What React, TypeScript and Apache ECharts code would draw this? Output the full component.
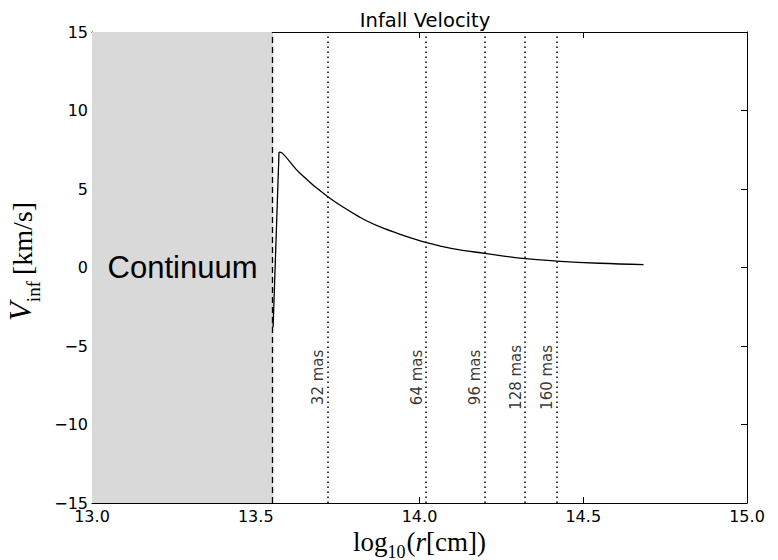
import React, { useEffect, useRef } from "react";
import * as echarts from "echarts";

// Infall velocity profile (log10 r [cm] -> V_inf [km/s])
const riseX = [13.553, 13.571];
const riseY = [-3.8, 7.35];
const decayX = [13.571, 13.58, 13.635, 13.72, 13.818, 13.878, 13.95, 14.022, 14.1, 14.2, 14.324, 14.419, 14.55, 14.684];
const decayY = [7.35, 7.3, 6.0, 4.5, 3.2, 2.6, 2.05, 1.58, 1.2, 0.9, 0.56, 0.41, 0.27, 0.18];

const continuumEdge = 13.553;
const continuumLabel = "Continuum";

const angularMarks = [13.721, 14.022, 14.2, 14.324, 14.42];
const angularLabels = ["32 mas", "64 mas", "96 mas", "128 mas", "160 mas"];
const angularLabelY = -7.0;

const xMin = 13.0, xMax = 15.0, xStep = 0.5;
const yMin = -15, yMax = 15, yStep = 5;

const titleText = "Infall Velocity";

export default function App() {
  const ref = useRef<HTMLDivElement>(null);
  useEffect(() => {
    const chart = echarts.init(ref.current!, null, { renderer: "svg" });
    const tickFont = { fontFamily: "DejaVu Sans", fontSize: 16, color: "#000" };
    const axisLine = { show: true, onZero: false, lineStyle: { color: "#000", width: 1 } };
    const axisTick = { show: true, inside: true, length: 6, lineStyle: { color: "#000", width: 1 } };
    const curveStyle = { color: "#000", width: 1.3 };
    chart.setOption({
      animation: false,
      backgroundColor: "#fff",
      title: {
        text: titleText,
        left: 420,
        top: 5,
        textAlign: "center",
        textStyle: { fontFamily: "DejaVu Sans", fontSize: 19.5, fontWeight: "normal", color: "#000" },
      },
      grid: { left: 92, right: 31, top: 32, bottom: 57, containLabel: false, outerBoundsMode: "none" },
      xAxis: [
        {
          type: "value", min: xMin, max: xMax, interval: xStep, position: "bottom",
          axisLine, axisTick, splitLine: { show: false },
          axisLabel: { ...tickFont, margin: 5, showMinLabel: true, showMaxLabel: true, formatter: (v: number) => v.toFixed(1) },
          name: "{t|log}{s|10}{t|(}{i|r}{t|[cm])}",
          nameLocation: "middle",
          nameGap: 19,
          nameTextStyle: {
            rich: {
              t: { fontFamily: "Liberation Serif", fontSize: 27, color: "#000", verticalAlign: "bottom", lineHeight: 30 },
              i: { fontFamily: "Liberation Serif", fontStyle: "italic", fontSize: 27, color: "#000", verticalAlign: "bottom", lineHeight: 30 },
              s: { fontFamily: "Liberation Serif", fontSize: 18, color: "#000", verticalAlign: "bottom", lineHeight: 30, padding: [0, 1, -5, 0] },
            },
          },
        },
        {
          type: "value", min: xMin, max: xMax, interval: xStep, position: "top",
          axisLine, axisTick, axisLabel: { show: false }, splitLine: { show: false },
        },
      ],
      yAxis: [
        {
          type: "value", min: yMin, max: yMax, interval: yStep, position: "left",
          axisLine, axisTick, splitLine: { show: false },
          axisLabel: { ...tickFont, margin: 4, showMinLabel: true, showMaxLabel: true, formatter: (v: number) => String(v).replace("-", "\u2212") },
          name: "{v|V}{s|inf}{t|[km/s]}",
          nameLocation: "middle",
          nameGap: 41,
          nameTextStyle: {
            padding: [0, 0, 0, 12],
            rich: {
              v: { fontFamily: "Liberation Serif", fontStyle: "italic", fontSize: 31, color: "#000", verticalAlign: "bottom", lineHeight: 34 },
              t: { fontFamily: "Liberation Serif", fontSize: 28, color: "#000", verticalAlign: "bottom", lineHeight: 34, padding: [0, 0, 0, 6] },
              s: { fontFamily: "Liberation Serif", fontSize: 19, color: "#000", verticalAlign: "bottom", lineHeight: 34, padding: [0, 0, -7, 0] },
            },
          },
        },
        {
          type: "value", min: yMin, max: yMax, interval: yStep, position: "right",
          axisLine, axisTick, axisLabel: { show: false }, splitLine: { show: false },
        },
      ],
      series: [
        {
          type: "line",
          data: riseX.map((x, i) => [x, riseY[i]]),
          showSymbol: false,
          lineStyle: curveStyle,
          z: 5,
          markArea: {
            silent: true,
            itemStyle: { color: "#d9d9d9" },
            label: {
              show: true,
              position: "inside",
              fontFamily: "Liberation Sans",
              fontSize: 31,
              color: "#000",
            },
            data: [[{ xAxis: xMin, name: continuumLabel }, { xAxis: continuumEdge }]],
          },
          markLine: {
            silent: true,
            symbol: "none",
            label: { show: false },
            data: [
              { xAxis: continuumEdge, lineStyle: { type: [6, 4], color: "#000", width: 1.3 } },
              ...angularMarks.map((m) => ({ xAxis: m, lineStyle: { type: [1.5, 3.5], color: "#000", width: 1.5 } })),
            ],
          },
        },
        {
          type: "line",
          data: decayX.map((x, i) => [x, decayY[i]]),
          showSymbol: false,
          smooth: 0.4,
          lineStyle: curveStyle,
          z: 5,
        },
        {
          type: "scatter",
          symbolSize: 0,
          data: angularMarks.map((m, i) => ({ value: [m, angularLabelY], name: angularLabels[i] })),
          label: {
            show: true,
            position: "inside",
            rotate: 90,
            offset: [0, -10],
            formatter: (p: any) => p.name,
            fontFamily: "DejaVu Sans",
            fontSize: 15,
            color: "#000",
          },
          silent: true,
          z: 6,
        },
      ],
    });
    return () => chart.dispose();
  }, []);
  return <div ref={ref} style={{ position: "absolute", left: 0, top: 0, width: 778, height: 560 }} />;
}
